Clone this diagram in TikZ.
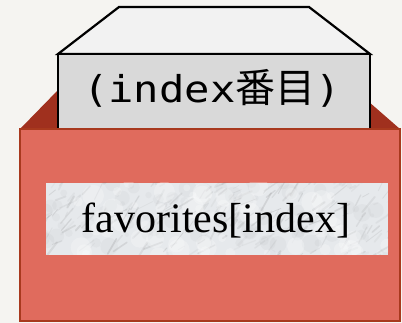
\documentclass[tikz,border=0pt]{standalone}
\usepackage{fontspec}
\setmainfont{Liberation Serif}
\newfontfamily\lidmono[FakeStretch=1.14]{DejaVu Sans Mono}
\newfontfamily\lidcjk{Noto Sans CJK JP}

\definecolor{paper}{HTML}{F5F4F1}
\definecolor{boxback}{HTML}{A0301E}
\definecolor{boxfront}{HTML}{E06B5D}
\definecolor{boxedge}{HTML}{A8391E}
\definecolor{lidtop}{HTML}{F2F2F2}
\definecolor{lidfront}{HTML}{D9D9D9}
\definecolor{marble}{HTML}{E6E9EC}

\tikzset{
  lidface/.style={draw=black, line width=2.2pt, line join=miter},
  boxface/.style={draw=boxedge, line width=2.4pt},
  lidlabel/.style={anchor=base, inner sep=0pt,
    font=\lidmono\fontsize{37}{37}\selectfont},
  tag/.style={anchor=base, inner sep=0pt,
    font=\fontsize{42}{42}\selectfont},
}

\begin{document}
\begin{tikzpicture}[x=1pt, y=-1pt]
  \useasboundingbox (0,0) rectangle (402,323);
  \fill[paper] (0,0) rectangle (402,323);

  % back wall of the box, seen above the front panel
  \fill[boxback] (20,129) -- (60,88) -- (353,88) -- (400,129) -- cycle;

  % the card standing in the box
  \filldraw[lidface, fill=lidtop] (58,54) -- (119,7) -- (309,7) -- (370,54) -- cycle;
  \filldraw[lidface, fill=lidfront] (58,54) rectangle (370,140);
  \node[lidlabel] (lid) at (212,103) {(index{\lidcjk\fontsize{40}{40}\selectfont 番目})};

  % front panel of the box
  \filldraw[boxface, fill=boxfront] (20,129) rectangle (400,321);

  % marble label plate
  \begin{scope}
    \clip (46,183) rectangle (388,255);
    \fill[marble] (46,183) rectangle (388,255);
    \pgfmathsetseed{11}
    \foreach \i in {1,...,90}{
      \pgfmathsetmacro\xa{40+rnd*352}
      \pgfmathsetmacro\ya{180+rnd*78}
      \pgfmathsetmacro\r{2+rnd*7}
      \fill[black!40, opacity=0.07] (\xa,\ya) circle (\r pt);
    }
    \foreach \i in {1,...,220}{
      \pgfmathsetmacro\xa{40+rnd*352}
      \pgfmathsetmacro\ya{180+rnd*78}
      \pgfmathsetmacro\ang{-20-rnd*45}
      \pgfmathsetmacro\len{4+rnd*16}
      \pgfmathsetmacro\op{0.04+rnd*0.14}
      \pgfmathsetmacro\lw{0.6+rnd*1.6}
      \draw[black!55, opacity=\op, line width=\lw pt, line cap=round]
        (\xa,\ya) -- ++(\ang:\len);
    }
    \foreach \i in {1,...,60}{
      \pgfmathsetmacro\xa{40+rnd*352}
      \pgfmathsetmacro\ya{180+rnd*78}
      \pgfmathsetmacro\r{3+rnd*8}
      \fill[white, opacity=0.25] (\xa,\ya) circle (\r pt);
    }
  \end{scope}
  \node[tag] (fav) at (216,233) {favorites[index]};
\end{tikzpicture}
\end{document}
